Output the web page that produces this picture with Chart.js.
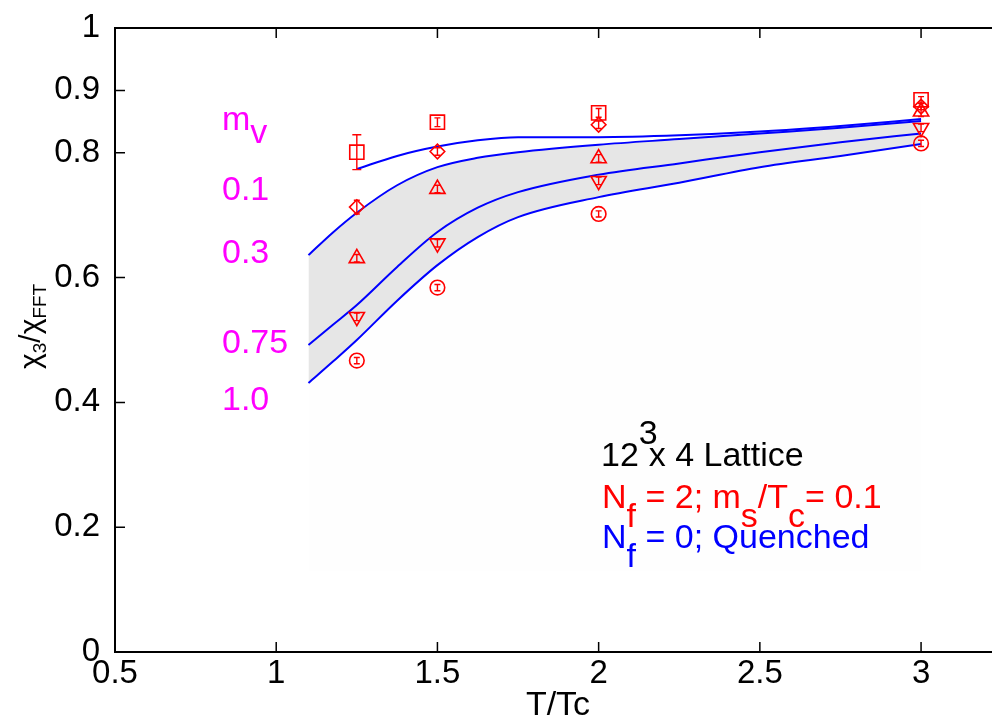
<!DOCTYPE html>
<html><head><meta charset="utf-8">
<script src="https://cdn.jsdelivr.net/npm/chart.js@4.4.1/dist/chart.umd.min.js"></script>
<style>html,body{margin:0;padding:0;background:#fff;}#wrap{width:992px;height:723px;}</style>
</head><body><div id="wrap"><canvas id="c" width="992" height="723"></canvas></div>
<script>
// ---- data ----
const temps = [1.25, 1.5, 2.0, 3.0];
const squareVals = [0.801, 0.849, 0.864, 0.885];
const squareErr  = [0.028, 0.007, 0.007, 0.005];
const diamondVals = [0.713, 0.802, 0.845, 0.874];
const diamondErr  = [0.011, 0.006, 0.006, 0.005];
const triUpVals = [0.631, 0.742, 0.791, 0.866];
const triUpErr  = [0.006, 0.006, 0.006, 0.008];
const triDownVals = [0.537, 0.655, 0.755, 0.840];
const triDownErr  = [0.006, 0.006, 0.006, 0.006];
const circleVals = [0.467, 0.584, 0.702, 0.815];
const circleErr  = [0.005, 0.005, 0.005, 0.005];

const curveAT = [1.25, 1.375, 1.5, 1.625, 1.75, 2.0, 2.25, 2.5, 2.75, 3.0];
const curveA  = [0.774, 0.795, 0.810, 0.820, 0.825, 0.825, 0.828, 0.834, 0.843, 0.854];
const curveT = [1.1, 1.175, 1.25, 1.375, 1.5, 1.625, 1.75, 2.0, 2.25, 2.5, 2.75, 3.0];
const curveB = [0.636, 0.672, 0.704, 0.748, 0.777, 0.792, 0.801, 0.813, 0.822, 0.831, 0.840, 0.851];
const curveC = [0.492, 0.524, 0.556, 0.617, 0.673, 0.712, 0.737, 0.765, 0.783, 0.801, 0.817, 0.831];
const curveD = [0.431, 0.465, 0.500, 0.563, 0.620, 0.665, 0.697, 0.729, 0.752, 0.777, 0.795, 0.814];
const shadeBaseT = [1.1, 3.0];
const shadeBase  = [0.13, 0.13];

const xTicks = [0.5, 1, 1.5, 2, 2.5, 3];
const yTicks = [0, 0.2, 0.4, 0.6, 0.8, 0.9, 1];
const massLabels = ['0.1', '0.3', '0.75', '1.0'];

const FONT = '"Liberation Sans", Arial, Helvetica, sans-serif';
const RED = '#ff0000', BLUE = '#0000ff', MAG = '#ff00ff';

const pts = (xs, ys) => xs.map((x, i) => ({x, y: ys[i]}));

function curve(xs, ys, extra) {
  return Object.assign({type: 'line', data: pts(xs, ys), borderColor: BLUE, borderWidth: 2,
    pointRadius: 0, cubicInterpolationMode: 'monotone', fill: false}, extra || {});
}
function markers(ys, errs, style, radius, rot) {
  return {type: 'line', data: pts(temps, ys), errors: errs, showLine: false,
    pointStyle: style, pointRadius: radius, pointRotation: rot || 0,
    pointBorderColor: RED, pointBackgroundColor: 'rgba(0,0,0,0)', pointBorderWidth: 1.6,
    borderColor: RED, backgroundColor: 'rgba(0,0,0,0)', fill: false, order: -1};
}

const datasets = [
  curve(curveAT, curveA),
  curve(curveT, curveB),
  curve(curveT, curveC),
  curve(curveT, curveD, {fill: {target: 1}, backgroundColor: '#e6e6e6'}),
  {type: 'line', data: pts(shadeBaseT, shadeBase), borderWidth: 0, pointRadius: 0,
   fill: {target: 3}, backgroundColor: 'rgba(0,0,0,0.004)', borderColor: 'rgba(0,0,0,0)'},
  markers(squareVals, squareErr, 'rect', 10),
  markers(diamondVals, diamondErr, 'rectRot', 7.3),
  markers(triUpVals, triUpErr, 'triangle', 8.8),
  markers(triDownVals, triDownErr, 'triangle', 8.8, 180),
  markers(circleVals, circleErr, 'circle', 7.3),
];

const inwardTicks = {
  id: 'inwardTicks',
  afterDraw(chart) {
    const {ctx, chartArea: a, scales: {x, y}} = chart;
    ctx.save(); ctx.strokeStyle = '#000'; ctx.lineWidth = 1.5;
    ctx.beginPath();
    x.ticks.forEach(t => { const px = x.getPixelForValue(t.value);
      ctx.moveTo(px, a.bottom); ctx.lineTo(px, a.bottom - 10);
      ctx.moveTo(px, a.top); ctx.lineTo(px, a.top + 10); });
    y.ticks.forEach(t => { const py = y.getPixelForValue(t.value);
      ctx.moveTo(a.left, py); ctx.lineTo(a.left + 10, py); });
    ctx.stroke(); ctx.restore();
  }
};

const errorBars = {
  id: 'errorBars',
  afterDatasetsDraw(chart) {
    const {ctx, scales: {y}} = chart;
    ctx.save(); ctx.strokeStyle = RED; ctx.lineWidth = 1.4;
    chart.data.datasets.forEach((ds, i) => {
      if (!ds.errors) return;
      const meta = chart.getDatasetMeta(i);
      meta.data.forEach((p, j) => {
        const v = ds.data[j].y, e = ds.errors[j];
        const y1 = y.getPixelForValue(v + e), y2 = y.getPixelForValue(v - e);
        const cw = e > 0.015 ? 4.5 : 3;
        ctx.beginPath();
        ctx.moveTo(p.x, y1); ctx.lineTo(p.x, y2);
        ctx.moveTo(p.x - cw, y1); ctx.lineTo(p.x + cw, y1);
        ctx.moveTo(p.x - cw, y2); ctx.lineTo(p.x + cw, y2);
        ctx.stroke();
      });
    });
    ctx.restore();
  }
};

function rich(ctx, x, y, segs, size) {
  let cx = x;
  segs.forEach(s => {
    ctx.font = (s.size || size) + 'px ' + FONT;
    ctx.fillStyle = s.color;
    ctx.fillText(s.t, cx, y + (s.dy || 0));
    cx += ctx.measureText(s.t).width + (s.dx || 0);
  });
}

const texts = {
  id: 'texts',
  afterDraw(chart) {
    const ctx = chart.ctx;
    ctx.save();
    ctx.textAlign = 'left'; ctx.textBaseline = 'alphabetic';
    rich(ctx, 222, 130, [{t: 'm', color: MAG}, {t: 'v', color: MAG, dy: 13}], 34);
    const ly = [200, 263, 353, 410];
    massLabels.forEach((l, i) => rich(ctx, 222, ly[i], [{t: l, color: MAG}], 34));
    rich(ctx, 601, 466, [{t: '12', color: '#000'}, {t: '3', color: '#000', dy: -22, dx: -9}, {t: 'x 4 Lattice', color: '#000'}], 34);
    rich(ctx, 602, 508, [{t: 'N', color: RED}, {t: 'f', color: RED, dy: 19}, {t: ' = 2; m', color: RED},
      {t: 's', color: RED, dy: 19}, {t: '/T', color: RED}, {t: 'c', color: RED, dy: 19}, {t: '= 0.1', color: RED}], 34);
    rich(ctx, 602, 548, [{t: 'N', color: BLUE}, {t: 'f', color: BLUE, dy: 19}, {t: ' = 0; Quenched', color: BLUE}], 34);
    ctx.font = '34px ' + FONT; ctx.fillStyle = '#000'; ctx.textAlign = 'center';
    ctx.fillText('T/Tc', 558, 715);
    ctx.translate(40, 369); ctx.rotate(-Math.PI / 2); ctx.textAlign = 'left';
    rich(ctx, 0, 0, [{t: 'χ', color: '#000'}, {t: '3', color: '#000', size: 19, dy: 6}, {t: '/', color: '#000'},
      {t: 'χ', color: '#000'}, {t: 'FFT', color: '#000', size: 19, dy: 6}], 30);
    ctx.restore();
  }
};

const zeroPad = s => { s.paddingLeft = 0; s.paddingRight = 0; s.paddingTop = 0; s.paddingBottom = 0; };

new Chart(document.getElementById('c'), {
  type: 'line',
  data: {datasets},
  plugins: [inwardTicks, errorBars, texts],
  options: {
    responsive: false, animation: false, devicePixelRatio: 1,
    layout: {padding: 0, autoPadding: false},
    plugins: {legend: {display: false}, tooltip: {enabled: false}, filler: {propagate: false}},
    scales: {
      x: {type: 'linear', position: 'bottom', min: 0.5, max: 3.22,
        afterBuildTicks: s => { s.ticks = xTicks.map(v => ({value: v})); },
        afterFit: s => { s.height = 71; zeroPad(s); },
        grid: {display: false, drawTicks: false},
        border: {display: true, color: '#000', width: 2},
        ticks: {font: {family: FONT, size: 33}, color: '#000', padding: 2, maxRotation: 0, autoSkip: false,
          callback: v => String(v)}},
      x2: {type: 'linear', position: 'top', min: 0.5, max: 3.22,
        afterFit: s => { s.height = 28; zeroPad(s); },
        grid: {display: false, drawTicks: false},
        border: {display: true, color: '#000', width: 2},
        ticks: {display: false}},
      y: {type: 'linear', position: 'left', min: 0, max: 1,
        afterBuildTicks: s => { s.ticks = yTicks.map(v => ({value: v})); },
        afterFit: s => { s.width = 115; zeroPad(s); },
        grid: {display: false, drawTicks: false},
        border: {display: true, color: '#000', width: 2},
        ticks: {font: {family: FONT, size: 33}, color: '#000', padding: 15, autoSkip: false,
          callback: v => String(v)}}
    }
  }
});
</script></body></html>
